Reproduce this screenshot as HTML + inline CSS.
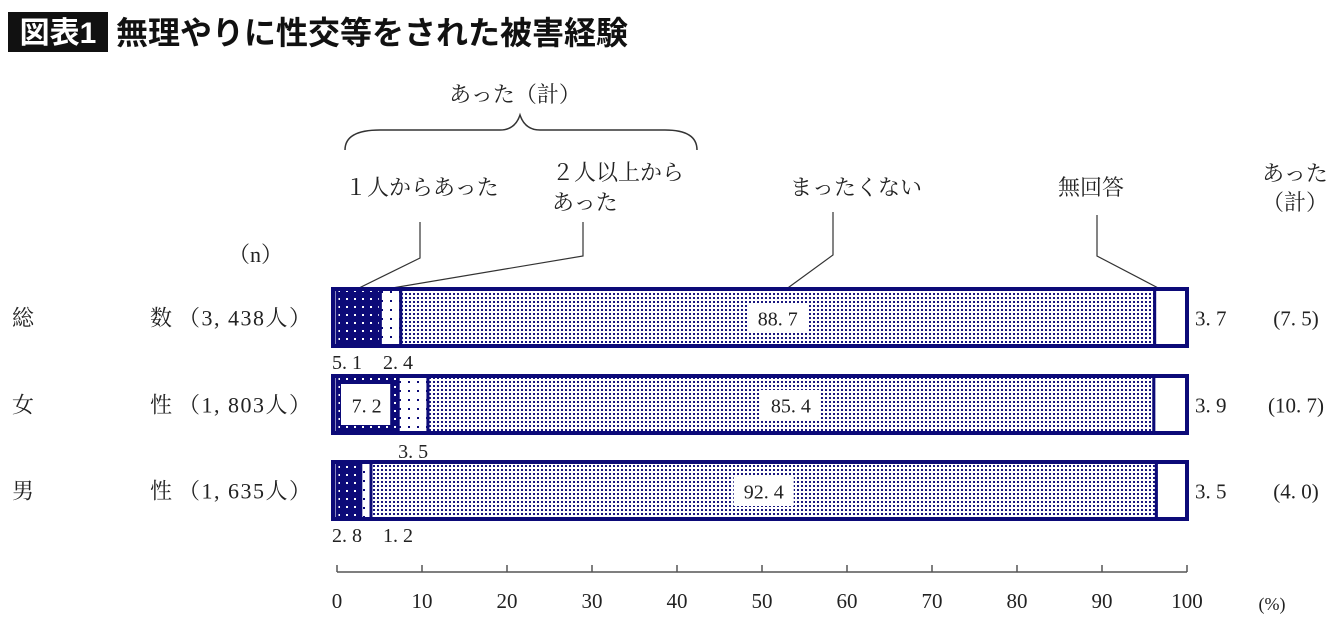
<!DOCTYPE html>
<html><head><meta charset="utf-8"><style>
body{margin:0;background:#fff;}
svg{display:block;font-family:"Liberation Serif","Noto Serif CJK SC",serif;}
.s{font-family:"Liberation Sans","Noto Sans CJK JP",sans-serif;}
</style></head><body>
<svg width="1340" height="621" viewBox="0 0 1340 621">
<defs>
<pattern id="p1" width="8" height="8" patternUnits="userSpaceOnUse"><rect width="8" height="8" fill="#0c0a78"/><rect x="2" y="2" width="2" height="2" fill="#fff"/></pattern>
<pattern id="p2" width="9" height="9" patternUnits="userSpaceOnUse"><rect width="9" height="9" fill="#fff"/><rect x="3" y="3" width="2" height="2" fill="#0c0a78"/></pattern>
<pattern id="p3" width="4" height="4" patternUnits="userSpaceOnUse"><rect width="4" height="4" fill="#fff"/><rect x="1" y="1" width="2" height="2" fill="#1a1880"/></pattern>
</defs>
<rect x="8" y="12" width="100" height="40" fill="#111"/>
<text x="58" y="43" fill="#fff" font-size="30" font-weight="bold" text-anchor="middle" class="s">図表1</text>
<text x="116" y="44" fill="#111" font-size="32" font-weight="bold" class="s">無理やりに性交等をされた被害経験</text>

<g fill="#222" font-size="22">
<text x="515" y="102" text-anchor="middle">あった（計）</text>
<path d="M345,150 Q345,130 380,130 L500,130 Q515,130 520,115 Q525,130 540,130 L665,130 Q697,130 697,150" fill="none" stroke="#333" stroke-width="1.5"/>
<text x="345" y="195">１人からあった</text>
<text x="552" y="180">２人以上から</text>
<text x="552" y="210">あった</text>
<text x="790" y="195">まったくない</text>
<text x="1058" y="195">無回答</text>
<text x="1295" y="181" text-anchor="middle">あった</text>
<text x="1295" y="210" text-anchor="middle">（計）</text>
<text x="228" y="262">（n）</text>
</g>
<g fill="none" stroke="#333" stroke-width="1.2">
<path d="M420,222 V258 L355,290"/><path d="M583,222 V256 L380,290"/>
<path d="M833,212 V255 L785,290"/><path d="M1097,215 V256 L1162,290"/>
</g>
<g id="bars"></g>
<g id="axis"></g>
</svg>
<script>
const categories=["総　　　数","女　　　性","男　　　性"];
const counts=["（3,438人）","（1,803人）","（1,635人）"];
const once=[5.1,7.2,2.8];
const multi=[2.4,3.5,1.2];
const never=[88.7,85.4,92.4];
const noAnswer=[3.7,3.9,3.5];
const totals=["(7.5)","(10.7)","(4.0)"];
const ticks=[0,10,20,30,40,50,60,70,80,90,100];
const NS="http://www.w3.org/2000/svg";
const x0=337,x1=1187;
const xs=v=>x0+(x1-x0)*v/100;
function el(t,a,p,txt){const e=document.createElementNS(NS,t);for(const k in a)e.setAttribute(k,a[k]);if(txt!=null)e.textContent=txt;p.appendChild(e);return e;}
const bars=document.getElementById('bars');
const rowY=[289,376,462],bh=57;
categories.forEach((c,i)=>{
  const y=rowY[i],cy=y+bh/2+8;
  const g=el('g',{},bars);
  
  
  const lab=el('text',{x:12,y:cy,'font-size':22,fill:'#222'},g,c[0]);
  
  
  const lab2=el('text',{x:150,y:cy,'font-size':22,fill:'#222'},g,c[c.length-1]);
  
  
  const n=el('text',{x:178,y:cy,'font-size':22,fill:'#222','letter-spacing':'1.5'},g,counts[i].replace(',',', '));
  
  
  const segs=[once[i],multi[i],never[i],noAnswer[i]];
  const fills=['url(#p1)','url(#p2)','url(#p3)','#fff'];
  const names=['seg-once','seg-multi','seg-never','seg-noanswer'];
  let acc=0;
  segs.forEach((v,j)=>{
    const a=acc,b=j==3?100:acc+v;
    const r=el('rect',{x:xs(a),y:y,width:xs(b)-xs(a),height:bh,fill:fills[j],stroke:'#0c0a78','stroke-width':3},g);
    
    
    acc+=v;
  });
  el('rect',{x:333,y:y,width:x1-333,height:bh,fill:'none',stroke:'#0c0a78','stroke-width':4},g);
  const mx=xs(once[i]+multi[i]+never[i]/2);
  el('rect',{x:mx-30,y:y+14,width:60,height:30,fill:'#fff'},g);
  const t=el('text',{x:mx,y:cy,'font-size':20,'text-anchor':'middle',fill:'#222'},g,never[i].toFixed(1).replace('.','. '));
  
  
  const na=el('text',{x:1195,y:cy,'font-size':21,fill:'#222'},g,noAnswer[i].toFixed(1).replace('.','. '));
  
  
  const tt=el('text',{x:1296,y:cy,'font-size':21,'text-anchor':'middle',fill:'#222'},g,totals[i].replace('.','. '));
  
  
  const fmt=v=>v.toFixed(1).replace('.','. ');
  if(i==1){
    const bx=xs(once[i]/2);
    el('rect',{x:xs(0)+4,y:y+8,width:xs(once[i])-xs(0)-12,height:bh-16,fill:'#fff'},g);
    const o=el('text',{x:bx-1,y:cy,'font-size':20,'text-anchor':'middle',fill:'#222'},g,fmt(once[i]));
    
    
    const m=el('text',{x:xs(once[i]+multi[i]/2),y:y+bh+25,'font-size':20,'text-anchor':'middle',fill:'#222'},g,fmt(multi[i]));
    
    
  } else {
    const o=el('text',{x:332,y:y+bh+23,'font-size':20,fill:'#222'},g,fmt(once[i]));
    
    
    const m=el('text',{x:383,y:y+bh+23,'font-size':20,fill:'#222'},g,fmt(multi[i]));
    
    
  }
});
const ax=document.getElementById('axis');
el('line',{x1:xs(0),x2:xs(100),y1:572,y2:572,stroke:'#555','stroke-width':1.5},ax);
ticks.forEach(v=>{
  el('line',{x1:xs(v),x2:xs(v),y1:565,y2:572,stroke:'#555','stroke-width':1.5},ax);
  const t=el('text',{x:xs(v),y:608,'font-size':21,'text-anchor':'middle',fill:'#222'},ax,String(v));
  
  
});
const u=el('text',{x:1272,y:610,'font-size':18,'text-anchor':'middle',fill:'#222'},ax,'(%)');


</script>
</body></html>
